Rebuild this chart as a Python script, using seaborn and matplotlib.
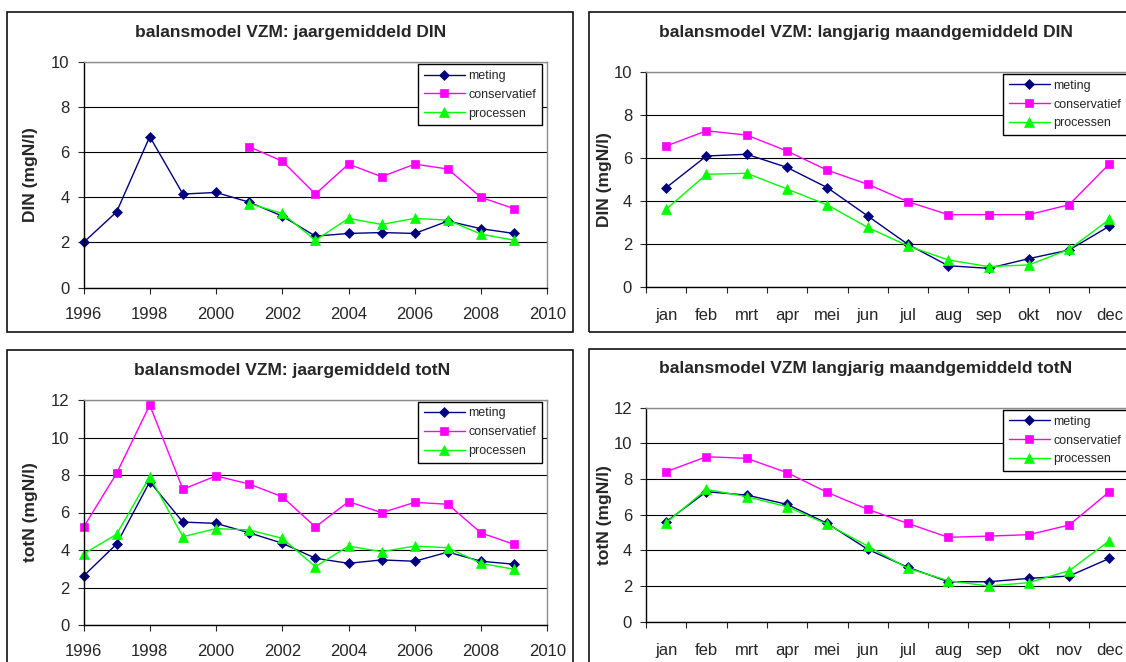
import numpy as np
import matplotlib
matplotlib.use("Agg")
import matplotlib.pyplot as plt
from matplotlib.patches import Rectangle
import seaborn as sns

# --- data ---
years = [1996, 1997, 1998, 1999, 2000, 2001, 2002, 2003, 2004, 2005, 2006, 2007, 2008, 2009]
years_model = [2001, 2002, 2003, 2004, 2005, 2006, 2007, 2008, 2009]
months = ["jan", "feb", "mrt", "apr", "mei", "jun", "jul", "aug", "sep", "okt", "nov", "dec"]

din_year_meting = [2.0, 3.36, 6.70, 4.15, 4.22, 3.79, 3.17, 2.28, 2.40, 2.44, 2.40, 2.95, 2.61, 2.40]
din_year_cons = [6.25, 5.61, 4.15, 5.48, 4.92, 5.48, 5.26, 4.0, 3.50]
din_year_proc = [3.73, 3.29, 2.10, 3.07, 2.80, 3.07, 2.99, 2.37, 2.10]

din_month_meting = [4.62, 6.09, 6.17, 5.56, 4.62, 3.31, 1.99, 1.0, 0.88, 1.33, 1.73, 2.84]
din_month_cons = [6.55, 7.26, 7.06, 6.32, 5.43, 4.78, 3.97, 3.37, 3.37, 3.37, 3.83, 5.73]
din_month_proc = [3.62, 5.24, 5.29, 4.56, 3.82, 2.78, 1.92, 1.27, 0.96, 1.04, 1.76, 3.15]

totn_year_meting = [2.61, 4.32, 7.64, 5.49, 5.42, 4.92, 4.36, 3.56, 3.29, 3.47, 3.40, 3.89, 3.40, 3.24]
totn_year_cons = [5.21, 8.09, 11.73, 7.24, 7.95, 7.52, 6.84, 5.23, 6.58, 5.99, 6.54, 6.44, 4.91, 4.30]
totn_year_proc = [3.79, 4.84, 7.91, 4.71, 5.14, 5.07, 4.62, 3.11, 4.21, 3.91, 4.21, 4.12, 3.29, 2.97]

totn_month_meting = [5.61, 7.29, 7.10, 6.58, 5.51, 4.06, 3.05, 2.24, 2.24, 2.43, 2.56, 3.55]
totn_month_cons = [8.41, 9.25, 9.16, 8.36, 7.25, 6.30, 5.51, 4.73, 4.80, 4.88, 5.42, 7.29]
totn_month_proc = [5.55, 7.42, 7.01, 6.45, 5.46, 4.24, 2.99, 2.30, 2.00, 2.19, 2.86, 4.54]

sns.set_style("white")
plt.rcParams["font.family"] = ["Liberation Sans", "DejaVu Sans"]

W, H = 1126, 662
fig = plt.figure(figsize=(W / 100, H / 100), dpi=100)


def px_box(l, t, r, b):
    return [l / W, 1 - b / H, (r - l) / W, (b - t) / H]


def frame(l, t, r, b):
    fig.add_artist(Rectangle((l / W, 1 - b / H), (r - l) / W, (b - t) / H,
                             transform=fig.transFigure, fill=False,
                             edgecolor="#111111", lw=1.2, clip_on=False))


def series(ax, x, y, kind):
    styles = {
        "meting": dict(color="#000080", marker="D", markersize=4.8),
        "conservatief": dict(color="#FF00FF", marker="s", markersize=6.3),
        "processen": dict(color="#00FF00", marker="^", markersize=7),
    }
    st = styles[kind]
    sns.lineplot(x=x, y=y, ax=ax, color=st["color"], marker=st["marker"],
                 markersize=st["markersize"], markeredgecolor=st["color"],
                 markeredgewidth=0.5, lw=1.0, label=kind, clip_on=False)


def style_axes(ax, ymax, legend_xy):
    ax.set_ylim(0, ymax)
    ax.set_yticks(np.arange(0, ymax + 1, 2))
    ax.yaxis.grid(True, color="black", lw=0.8)
    ax.xaxis.grid(False)
    ax.set_axisbelow(True)
    for s in ["left", "bottom"]:
        ax.spines[s].set_color("black")
        ax.spines[s].set_linewidth(1.0)
    for s in ["top", "right"]:
        ax.spines[s].set_color("#8c8c8c")
        ax.spines[s].set_linewidth(1.0)
    ax.tick_params(axis="y", left=True, length=4, width=0.8, pad=6, labelsize=12)
    ax.tick_params(axis="x", bottom=True, length=4, width=0.8, labelsize=12)
    ax.set_xlabel("")
    ax.set_ylabel("")
    lx, ly = legend_xy
    leg = ax.legend(loc="upper left", bbox_to_anchor=(lx / W, 1 - ly / H),
                    bbox_transform=fig.transFigure, borderaxespad=0,
                    fontsize=9, frameon=True, fancybox=False, framealpha=1,
                    edgecolor="black", handlelength=3.3, handletextpad=0.3,
                    labelspacing=0.55, borderpad=0.45)
    leg.get_frame().set_linewidth(1.0)


def year_panel(rect, meting, cons, cons_years, proc, proc_years, ymax, legend_xy):
    ax = fig.add_axes(px_box(*rect))
    series(ax, years, meting, "meting")
    series(ax, cons_years, cons, "conservatief")
    series(ax, proc_years, proc, "processen")
    ax.set_xlim(1996, 2010)
    ax.set_xticks(np.arange(1996, 2011, 2))
    style_axes(ax, ymax, legend_xy)
    ax.tick_params(axis="x", pad=10)
    return ax


def month_panel(rect, meting, cons, proc, ymax, legend_xy):
    ax = fig.add_axes(px_box(*rect))
    x = np.arange(len(months))
    series(ax, x, meting, "meting")
    series(ax, x, cons, "conservatief")
    series(ax, x, proc, "processen")
    ax.set_xlim(-0.5, len(months) - 0.5)
    ax.set_xticks(x)
    ax.set_xticklabels(months)
    ax.set_xticks(np.arange(-0.5, len(months), 1), minor=True)
    style_axes(ax, ymax, legend_xy)
    ax.tick_params(axis="x", which="major", length=0, pad=15)
    ax.tick_params(axis="x", which="minor", bottom=True, length=4, width=0.8)
    return ax


# panel frames
frame(7.5, 11.5, 573, 331.5)
frame(589, 11.5, 1160, 331.5)
frame(7.5, 349.5, 573, 700)
frame(589, 349, 1160, 700)

year_panel((83.5, 62.3, 547.3, 287.5), din_year_meting, din_year_cons, years_model,
           din_year_proc, years_model, 10, (418, 64.3))
month_panel((646, 71.7, 1129.6, 287.3), din_month_meting, din_month_cons,
            din_month_proc, 10, (1003, 74))
year_panel((83.5, 400, 547.3, 625), totn_year_meting, totn_year_cons, years,
           totn_year_proc, years, 12, (418, 401.7))
month_panel((646, 407.7, 1129.6, 621.7), totn_month_meting, totn_month_cons,
            totn_month_proc, 12, (1003, 410))

titles = [
    ("balansmodel VZM: jaargemiddeld DIN", 291, 33),
    ("balansmodel VZM: langjarig maandgemiddeld DIN", 866, 33),
    ("balansmodel VZM: jaargemiddeld totN", 292, 370),
    ("balansmodel VZM langjarig maandgemiddeld totN", 866, 369),
]
for txt, x, y in titles:
    fig.text(x / W, 1 - y / H, txt, ha="center", va="center",
             fontsize=12.5, fontweight="bold")

ylabels = [
    ("DIN (mgN/l)", 31, 175),
    ("DIN (mgN/l)", 605, 179.5),
    ("totN (mgN/l)", 31, 512.5),
    ("totN (mgN/l)", 605, 514.7),
]
for txt, x, y in ylabels:
    fig.text(x / W, 1 - y / H, txt, ha="center", va="center", rotation=90,
             fontsize=12.5, fontweight="bold")

fig.savefig("out.png", dpi=100)
